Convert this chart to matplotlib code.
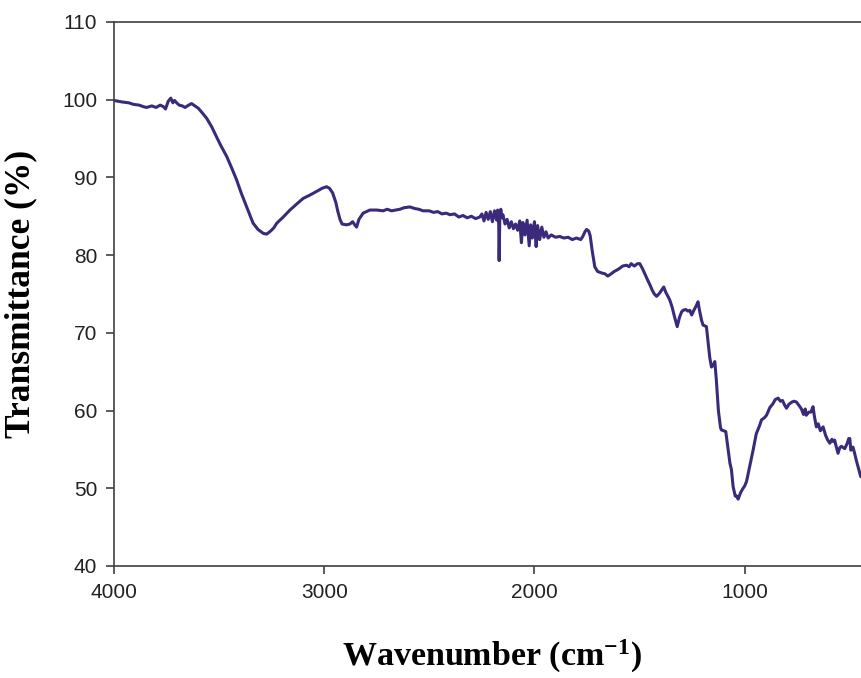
import matplotlib
matplotlib.use("Agg")
import matplotlib.pyplot as plt

# FTIR spectrum
wavenumber = [
    4000, 3960, 3930, 3908, 3880, 3860, 3845, 3820, 3800, 3780, 3765, 3755,
    3742, 3730, 3720, 3712, 3702, 3690, 3675, 3662, 3645, 3631, 3615, 3599,
    3580, 3559, 3535, 3512, 3490, 3464, 3440, 3417, 3395, 3369, 3350, 3338,
    3315, 3290, 3274, 3255, 3240, 3226, 3195, 3163, 3130, 3100, 3070, 3036,
    3010, 2989, 2975, 2960, 2945, 2935, 2925, 2915, 2895, 2878, 2865, 2855,
    2846, 2835, 2815, 2783, 2750, 2720, 2700, 2680, 2660, 2640, 2620, 2592,
    2570, 2550, 2530, 2500, 2480, 2460, 2440, 2420, 2402, 2380, 2360, 2340,
    2320, 2300, 2280, 2260, 2250, 2240, 2230, 2220, 2210, 2200, 2190, 2180,
    2175, 2170, 2168, 2165, 2160, 2155, 2150, 2140, 2130, 2120, 2110, 2100,
    2090, 2080, 2070, 2062, 2055, 2045, 2035, 2025, 2018, 2010, 2000, 1992,
    1985, 1975, 1965, 1955, 1945, 1935, 1920, 1900, 1880, 1860, 1840, 1820,
    1800, 1780, 1770, 1760, 1752, 1742, 1735, 1725, 1713, 1700, 1680, 1665,
    1651, 1635, 1620, 1600, 1580, 1562, 1550, 1540, 1525, 1510, 1499, 1485,
    1470, 1460, 1451, 1440, 1430, 1419, 1405, 1395, 1385, 1375, 1365, 1356,
    1345, 1335, 1325, 1321, 1310, 1300, 1293, 1280, 1270, 1261, 1252, 1240,
    1230, 1222, 1215, 1205, 1198, 1182, 1175, 1166, 1158, 1150, 1142, 1135,
    1125, 1115, 1110, 1100, 1090, 1080, 1070, 1063, 1055, 1045, 1038, 1031,
    1020, 1010, 1000, 991, 980, 970, 960, 945, 930, 920, 905, 896,
    880, 865, 855, 841, 830, 820, 810, 801, 790, 775, 765, 754,
    740, 730, 720, 712, 707, 695, 685, 675, 668, 659, 650, 640,
    627, 615, 605, 595, 585, 578, 572, 564, 556, 548, 540, 524,
    512, 505, 500, 495, 485, 478, 469, 460, 455, 448, 440, 430,
]
transmittance = [
    99.9, 99.7, 99.6, 99.4, 99.3, 99.1, 99.0, 99.2, 99.0, 99.3, 99.1, 98.8,
    99.8, 100.2, 99.6, 99.9, 99.6, 99.3, 99.2, 99.0, 99.3, 99.5, 99.2, 98.9,
    98.3, 97.6, 96.5, 95.2, 94.0, 92.7, 91.2, 89.7, 88.0, 86.2, 84.9, 84.1,
    83.3, 82.8, 82.7, 83.1, 83.5, 84.1, 84.9, 85.8, 86.6, 87.3, 87.7, 88.2,
    88.6, 88.8, 88.6, 88.0, 86.8, 85.6, 84.6, 84.0, 83.9, 84.0, 84.3, 83.9,
    83.6, 84.6, 85.4, 85.8, 85.8, 85.7, 85.9, 85.7, 85.8, 85.9, 86.1, 86.2,
    86.0, 85.9, 85.7, 85.7, 85.5, 85.6, 85.3, 85.4, 85.2, 85.3, 84.9, 85.1,
    84.8, 85.0, 84.7, 84.9, 85.3, 84.4, 85.5, 84.6, 85.6, 84.3, 85.7, 84.5,
    85.8, 84.0, 79.3, 84.5, 85.9, 84.8, 85.2, 84.0, 84.6, 83.5, 84.3, 83.4,
    84.0, 83.2, 84.4, 81.6, 84.2, 82.6, 84.5, 81.2, 83.9, 82.2, 84.3, 81.1,
    83.8, 82.0, 83.6, 82.3, 83.0, 82.2, 82.6, 82.3, 82.4, 82.2, 82.3, 82.0,
    82.2, 82.0, 82.4, 83.0, 83.3, 83.1, 82.5, 80.5, 78.5, 77.9, 77.7, 77.6,
    77.3, 77.6, 77.9, 78.2, 78.6, 78.7, 78.5, 78.9, 78.6, 78.9, 78.9, 78.2,
    77.3, 76.7, 76.2, 75.5, 75.0, 74.7, 75.1, 75.5, 75.9, 75.2, 74.7, 74.2,
    73.3, 72.2, 71.2, 70.8, 72.0, 72.7, 72.9, 73.0, 72.8, 72.9, 72.3, 73.0,
    73.5, 74.0, 72.9, 71.6, 71.0, 70.8, 69.0, 66.8, 65.6, 65.8, 66.3, 64.0,
    60.0, 57.8, 57.5, 57.4, 57.3, 55.3, 53.2, 52.4, 50.2, 49.0, 49.0, 48.6,
    49.4, 49.9, 50.3, 50.9, 52.3, 53.6, 54.9, 57.0, 58.0, 58.8, 59.1, 59.4,
    60.4, 60.9, 61.4, 61.6, 61.2, 61.3, 60.7, 60.3, 60.8, 61.1, 61.2, 61.1,
    60.6, 60.2, 59.5, 60.2, 59.4, 59.8, 59.8, 60.5, 59.2, 57.9, 58.3, 57.4,
    57.9, 56.8, 56.2, 55.8, 56.3, 56.0, 56.2, 55.3, 54.5, 55.2, 55.4, 55.1,
    55.8, 56.4, 56.4, 54.9, 55.3, 54.6, 53.6, 52.7, 52.2, 51.5, 52.0, 51.0,
]

x_ticks = [4000, 3000, 2000, 1000]
y_ticks = [40, 50, 60, 70, 80, 90, 100, 110]

plt.rcParams["mathtext.default"] = "regular"
plt.rcParams["axes.unicode_minus"] = False

fig = plt.figure(figsize=(8.61, 6.78), dpi=100)
# axes runs past the right edge of the picture, as in the cropped original
ax = fig.add_axes([0.1324, 0.1652, 0.879, 0.8024])

ax.plot(wavenumber, transmittance, color="#3b2a7c", lw=2.2)

ax.set_xlim(4000, 400)
ax.set_ylim(40, 110)
ax.set_xticks(x_ticks)
ax.set_yticks(y_ticks)

for s in ax.spines.values():
    s.set_color("#404040")
    s.set_linewidth(1.2)
ax.tick_params(direction="out", length=6, width=1.2, color="#404040",
               labelsize=15, pad=6)
for lab in ax.get_xticklabels() + ax.get_yticklabels():
    lab.set_fontfamily("Liberation Sans")
    lab.set_color("#222222")

ax.set_xlabel("Wavenumber (cm$^{-1}$)", family="Liberation Serif",
              weight="bold", fontsize=24.5, labelpad=26)
ax.set_ylabel("Transmittance (%)", family="Liberation Serif",
              weight="bold", fontsize=25.5, labelpad=18)

fig.savefig("out.png", dpi=100)
